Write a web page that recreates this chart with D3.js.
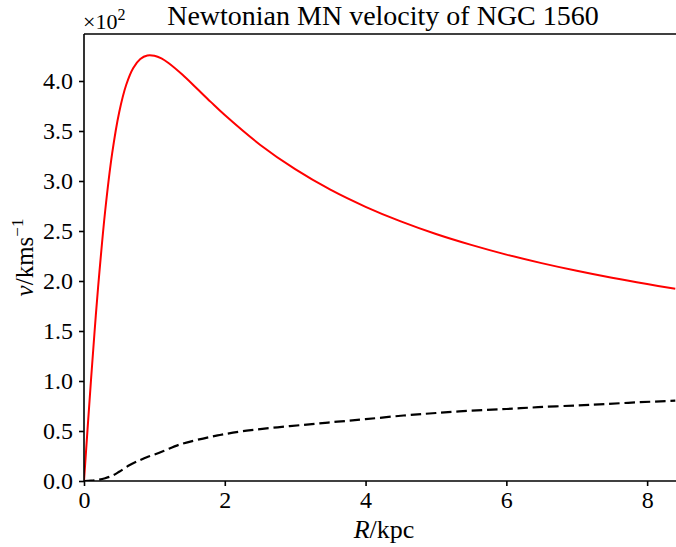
<!DOCTYPE html>
<html>
<head>
<meta charset="utf-8">
<script src="https://cdn.jsdelivr.net/npm/d3@7"></script>
<style>
  html, body { margin: 0; padding: 0; background: #fff; }
  svg { display: block; font-family: "Liberation Serif", "DejaVu Serif", serif; }
</style>
</head>
<body>
<div id="chart"></div>
<script>
// radius in kpc, velocity in units of 10^2 km/s
const redR = [0, 0.05, 0.1, 0.15, 0.2, 0.3, 0.4, 0.5, 0.6, 0.7, 0.8, 0.9, 1.0, 1.1, 1.2, 1.4, 1.6, 1.8, 2.0, 2.5, 3.0, 3.5, 4.0, 4.5, 5.0, 5.5, 6.0, 6.5, 7.0, 7.5, 8.0, 8.4]
const redV = [0, 0.514, 1.015, 1.492, 1.935, 2.695, 3.276, 3.688, 3.963, 4.131, 4.221, 4.256, 4.253, 4.226, 4.180, 4.062, 3.927, 3.791, 3.659, 3.363, 3.118, 2.913, 2.742, 2.596, 2.470, 2.361, 2.264, 2.179, 2.102, 2.032, 1.969, 1.922]

const dashR = [0, 0.1, 0.2, 0.3, 0.4, 0.5, 0.65, 0.8, 0.9, 1.0, 1.13, 1.36, 1.6, 1.93, 2.31, 2.75, 3.2, 3.6, 4.0, 4.54, 5.0, 5.5, 6.0, 6.45, 7.0, 7.4, 7.9, 8.4]
const dashV = [0, 0.003, 0.012, 0.028, 0.052, 0.092, 0.16, 0.21, 0.24, 0.265, 0.30, 0.365, 0.41, 0.46, 0.503, 0.537, 0.567, 0.593, 0.618, 0.655, 0.68, 0.703, 0.72, 0.738, 0.756, 0.77, 0.788, 0.803]

const xTicks = [0, 2, 4, 6, 8]
const yTicks = [0, 0.5, 1.0, 1.5, 2.0, 2.5, 3.0, 3.5, 4.0]

const width = 676
const height = 547
const margin = { top: 34, right: 0, bottom: 66, left: 84 }

const x = d3.scaleLinear().domain([0, 8.41]).range([margin.left, width - margin.right])
const y = d3.scaleLinear().domain([0, 4.47]).range([height - margin.bottom, margin.top])

const svg = d3.select('#chart').append('svg')
  .attr('width', width)
  .attr('height', height)

const line = d3.line()
  .x((d) => x(d[0]))
  .y((d) => y(d[1]))
  .curve(d3.curveCatmullRom.alpha(0.5))

svg.append('clipPath').attr('id', 'plot-clip')
  .append('rect')
  .attr('x', margin.left)
  .attr('y', margin.top)
  .attr('width', width - margin.left - margin.right)
  .attr('height', height - margin.top - margin.bottom)

const plot = svg.append('g').attr('clip-path', 'url(#plot-clip)')

plot.append('path')
  .datum(dashR.map((r, i) => [r, dashV[i]]))
  .attr('fill', 'none')
  .attr('stroke', '#000')
  .attr('stroke-width', 2.2)
  .attr('stroke-dasharray', '10.5,4.8')
  .attr('d', line)

plot.append('path')
  .datum(redR.map((r, i) => [r, redV[i]]))
  .attr('fill', 'none')
  .attr('stroke', '#ff0000')
  .attr('stroke-width', 2)
  .attr('d', line)

// axes
const xAxis = svg.append('g')
  .attr('transform', `translate(0,${height - margin.bottom})`)
  .call(d3.axisBottom(x).tickValues(xTicks).tickSize(5).tickPadding(5).tickFormat(d3.format('d')))

const yAxis = svg.append('g')
  .attr('transform', `translate(${margin.left},0)`)
  .call(d3.axisLeft(y).tickValues(yTicks).tickSize(5).tickPadding(6).tickFormat(d3.format('.1f')))

for (const ax of [xAxis, yAxis]) {
  ax.select('.domain').attr('stroke', '#000').attr('stroke-width', 1.6)
  ax.selectAll('.tick line').attr('stroke', '#000').attr('stroke-width', 1.6)
  ax.selectAll('.tick text')
    .attr('fill', '#000')
    .style('font-family', '"Liberation Serif", serif')
    .style('font-size', '24px')
}
xAxis.select('.domain').attr('d', `M${margin.left},0H${width}`)
yAxis.select('.domain').attr('d', `M0,${height - margin.bottom}V${margin.top}`)

// top spine
svg.append('line')
  .attr('x1', margin.left).attr('x2', width)
  .attr('y1', margin.top).attr('y2', margin.top)
  .attr('stroke', '#000').attr('stroke-width', 1.6)

// offset text
const off = svg.append('text')
  .attr('x', margin.left - 1)
  .attr('y', 29)
  .attr('font-size', 22)
off.append('tspan').text('×10')
off.append('tspan').attr('font-size', 16).attr('dy', -9).text('2')

// title
svg.append('text')
  .attr('x', (margin.left + width) / 2 + 3)
  .attr('y', 25)
  .attr('text-anchor', 'middle')
  .attr('font-size', 28)
  .text('Newtonian MN velocity of NGC 1560')

// x label
const xl = svg.append('text')
  .attr('x', (margin.left + width) / 2 + 4)
  .attr('y', 538)
  .attr('text-anchor', 'middle')
  .attr('font-size', 26)
xl.append('tspan').attr('font-style', 'italic').text('R')
xl.append('tspan').text('/kpc')

// y label
const yl = svg.append('text')
  .attr('transform', `translate(33,${(margin.top + height - margin.bottom) / 2}) rotate(-90)`)
  .attr('text-anchor', 'middle')
  .attr('font-size', 25)
yl.append('tspan').attr('font-style', 'italic').text('v')
yl.append('tspan').text('/kms')
yl.append('tspan').attr('font-size', 17).attr('dy', -10).text('−1')
</script>
</body>
</html>
